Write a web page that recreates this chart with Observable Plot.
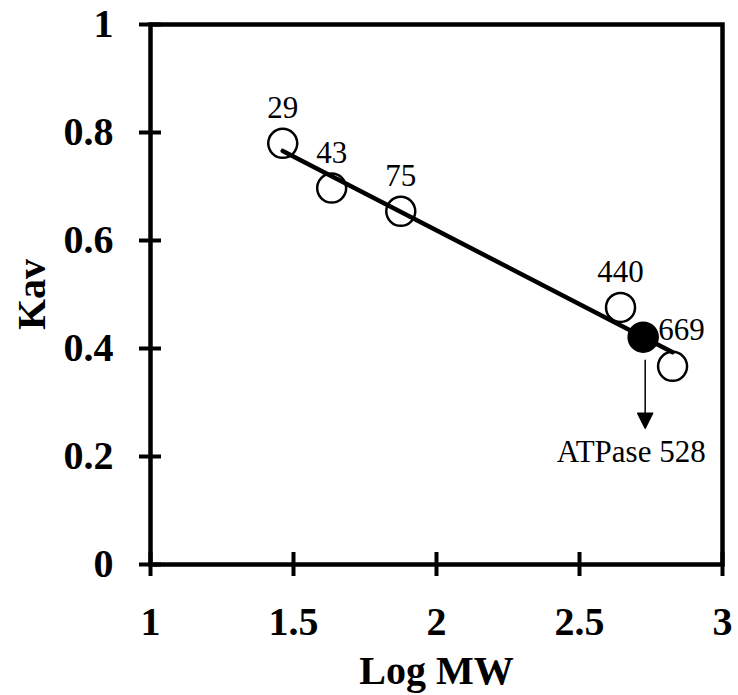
<!DOCTYPE html>
<html>
<head>
<meta charset="utf-8">
<script src="https://cdn.jsdelivr.net/npm/d3@7"></script>
<script src="https://cdn.jsdelivr.net/npm/@observablehq/plot@0.6"></script>
<style>
  html, body { margin: 0; padding: 0; background: white; }
</style>
</head>
<body>
<div id="chart"></div>
<script>
// Standard proteins (molecular weight in kDa) and their Kav
const standardMW = [29, 43, 75, 440, 669];
const standardKav = [0.780, 0.697, 0.654, 0.476, 0.367];
// Sample
const sampleName = ["ATPase"];
const sampleMW = [528];
const sampleKav = [0.421];
// Axis ticks
const xTicks = [1, 1.5, 2, 2.5, 3];
const yTicks = [0, 0.2, 0.4, 0.6, 0.8, 1];

const standards = standardMW.map((mw, i) => ({mw, logmw: Math.log10(mw), kav: standardKav[i]}));
const samples = sampleMW.map((mw, i) => ({name: sampleName[i], mw, logmw: Math.log10(mw), kav: sampleKav[i]}));

const W = 738, H = 695;
const mL = 150, mR = 16, mT = 24, mB = 131;
const plotW = W - mL - mR, plotH = H - mT - mB;
const tickX = 12; // half-length of crossing x ticks
const tickY = 11; // half-length of crossing y ticks

const serif = "'Liberation Serif', 'Times New Roman', Times, serif";
const fmt = d => String(d);

const arrowShape = {
  draw(ctx, l) {
    const h = 15, w = 7.5;
    ctx.moveTo(0, 0);
    ctx.lineTo(0, -l + h);
    ctx.moveTo(-w, -l + h);
    ctx.lineTo(w, -l + h);
    ctx.lineTo(0, -l);
    ctx.closePath();
  }
};

const chart = Plot.plot({
  width: W,
  height: H,
  marginLeft: mL,
  marginRight: mR,
  marginTop: mT,
  marginBottom: mB,
  style: {background: "white", fontFamily: serif, color: "black"},
  x: {domain: [1, 3]},
  y: {domain: [0, 1]},
  marks: [
    Plot.frame({stroke: "black", strokeWidth: 4.5, fill: "none"}),
    // crossing ticks on the bottom and left axes
    Plot.ruleX(xTicks, {x: d => d, insetTop: plotH - tickX, insetBottom: -tickX, stroke: "black", strokeWidth: 4}),
    Plot.ruleY(yTicks, {y: d => d, insetRight: plotW - tickY, insetLeft: -tickY, stroke: "black", strokeWidth: 4}),
    // tick labels and titles
    Plot.axisX({ticks: xTicks, tickSize: 0, tickPadding: 42, tickFormat: fmt, fill: "black", fontSize: 40, fontWeight: "bold", fontFamily: serif,
      label: "Log MW", labelAnchor: "center", labelOffset: 119, labelArrow: "none"}),
    Plot.axisY({ticks: yTicks, tickSize: 0, tickPadding: 37, tickFormat: fmt, fill: "black", fontSize: 40, fontWeight: "bold", fontFamily: serif,
      label: "Kav", labelAnchor: "center", labelOffset: 134, labelArrow: "none"}),
    // standards (open circles)
    Plot.dot(standards, {x: "logmw", y: "kav", r: 14.5, stroke: "black", strokeWidth: 2.5, fill: "white"}),
    // regression line
    Plot.linearRegressionY(standards, {x: "logmw", y: "kav", stroke: "black", strokeWidth: 4.5, ci: 0}),
    // sample (filled circle)
    Plot.dot(samples, {x: "logmw", y: "kav", r: 15, fill: "black", stroke: "black"}),
    // labels for standards
    Plot.text(standards.filter(d => d.mw !== 669), {x: "logmw", y: "kav", text: d => String(d.mw), dy: -25, lineAnchor: "bottom",
      fontSize: 31, fontFamily: serif, fill: "black"}),
    Plot.text(standards.filter(d => d.mw === 669), {x: "logmw", y: "kav", text: d => String(d.mw), dy: -26, dx: 9, lineAnchor: "bottom",
      fontSize: 31, fontFamily: serif, fill: "black"}),
    // arrow and label for sample
    Plot.vector(samples, {x: "logmw", y: "kav", length: 68, rotate: 180, anchor: "start", dy: 23, dx: 2,
      shape: arrowShape, stroke: "black", fill: "black", strokeWidth: 1.5}),
    Plot.text(samples, {x: "logmw", y: "kav", text: d => `${d.name} ${d.mw}`, dy: 125, dx: -12, lineAnchor: "bottom",
      fontSize: 31, fontFamily: serif, fill: "black"})
  ]
});

document.getElementById("chart").appendChild(chart);
</script>
</body>
</html>
